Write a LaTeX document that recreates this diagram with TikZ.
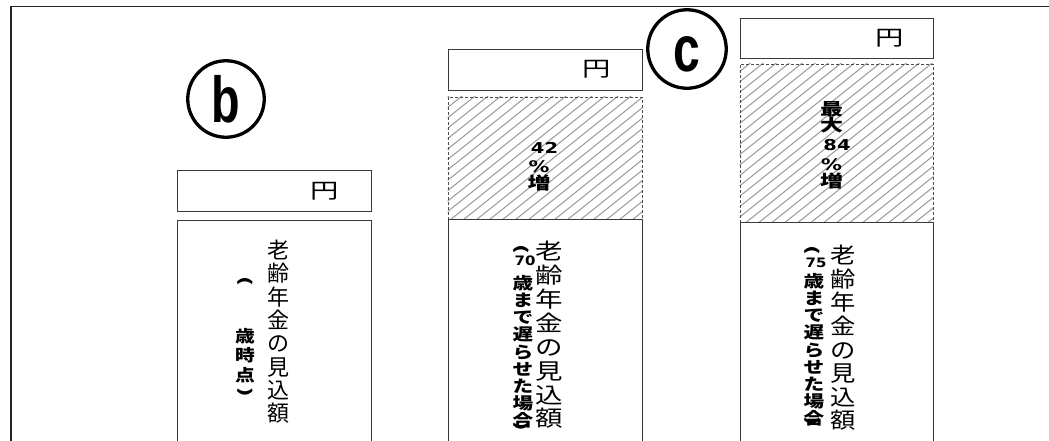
\documentclass[tikz,border=0pt]{standalone}
\usepackage{fontspec}
\newfontfamily\jp{Noto Sans CJK JP}
\newfontfamily\jpS{Noto Sans CJK JP}[FakeStretch=1.15]
\newfontfamily\jpM{Noto Sans CJK JP}[FakeStretch=1.2]
\newfontfamily\jpL{Noto Sans CJK JP}[FakeStretch=1.25]
\newfontfamily\jpX{Noto Sans CJK JP}[FakeStretch=1.35]
\newfontfamily\jpP{Noto Sans CJK JP}[FakeStretch=1.6]
\newfontfamily\dvX{DejaVu Sans}[FakeStretch=1.3]
\newfontfamily\dvA{DejaVu Sans}[FakeStretch=1.15]
\newfontfamily\lsans{Liberation Sans}
\usetikzlibrary{calc}
\newcommand{\vopen}{\rotatebox[origin=c]{-90}{(}}
\newcommand{\vclose}{\rotatebox[origin=c]{-90}{)}}
\begin{document}
\begin{tikzpicture}[x=1pt,y=-1pt,
  boxline/.style={draw=black!78, line width=1pt, rectangle, inner sep=0pt},
  hatchbox/.style={draw=black!70, line width=0.8pt, dash pattern=on 3pt off 2pt, rectangle, inner sep=0pt},
  hatchline/.style={draw=black!40, line width=1pt},
  yentxt/.style={font=\jpX\fontsize{21}{21}\selectfont, inner sep=0pt},
  mainv/.style={font=\jp\fontsize{22}{23.3}\selectfont, align=center, inner sep=0pt, anchor=north},
  mainvL/.style={font=\jpL\fontsize{22}{23.9}\selectfont, align=center, inner sep=0pt, anchor=north},
  mainvS/.style={font=\jpS\fontsize{22}{23.6}\selectfont, align=center, inner sep=0pt, anchor=north},
  smallv/.style={font=\jpL\bfseries\fontsize{16.5}{17.2}\selectfont, align=center, inner sep=0pt, anchor=north},
  smallvb/.style={font=\jpM\bfseries\fontsize{16.5}{19.5}\selectfont, align=center, inner sep=0pt, anchor=north},
  paren/.style={font=\jpP\bfseries\fontsize{15}{15}\selectfont, inner sep=0pt},
  agetxt/.style={font=\dvA\bfseries\fontsize{13}{13}\selectfont, inner sep=0pt},
  hatchtxt/.style={font=\jpX\bfseries\fontsize{17}{17}\selectfont, align=center, inner sep=0pt, anchor=north},
  ring/.style={circle, draw=black, line width=3.3pt, inner sep=0pt},
  letter/.style={font=\lsans\bfseries\fontsize{65}{65}\selectfont, inner sep=0pt, anchor=base}
]
\useasboundingbox (0,0) rectangle (1049,440);
\fill[white] (0,0) rectangle (1049,440);

% outer frame
\coordinate (fbl) at (11,445);
\coordinate (ftl) at (11,6.5);
\coordinate (ftr) at (1055,6.5);
\draw[line width=1.6pt, black!85] (fbl) -- (ftl) -- (ftr);

% circled letters
\node[ring, minimum size=76.5pt] (cb) at (226,99) {};
\node[letter] (lb) at ($(cb.center)+(0,23)$) {\scalebox{0.72}[1]{b}};
\node[ring, minimum size=78.5pt] (cc) at (687,49) {};
\node[letter] (lc) at ($(cc.center)+(0,22.5)$) {\scalebox{0.74}[1]{c}};

% ---- column b ----
\node[boxline, minimum width=194pt, minimum height=40.5pt] (yb) at (274,190.75) {};
\node[yentxt] (yenb) at (325,191) {円};
\node[boxline, minimum width=194pt, minimum height=240pt, anchor=north] (mb) at (274,219.5) {};
\node[mainv] (tb) at (278,240) {老\\齢\\年\\金\\の\\見\\込\\額};
\node[paren] (ob) at (245,281) {\vopen};
\node[smallvb] (sb) at (245,328) {歳\\時\\点};
\node[paren] (cbp) at (245,392.5) {\vclose};

% ---- column 70 ----
\node[boxline, minimum width=194pt, minimum height=41pt] (y70) at (545,69.5) {};
\node[yentxt] (yen70) at (597,69.5) {円};
\node[hatchbox, minimum width=194pt, minimum height=122pt] (h70) at (545,158) {};
\begin{scope}
  \clip (h70.south west) rectangle (h70.north east);
  \foreach \x in {100,113,...,1000} \draw[hatchline] (\x,240) -- ({\x+250},40);
\end{scope}
\node[hatchbox, minimum width=194pt, minimum height=122pt] (h70b) at (545,158) {};
\node[hatchtxt] (p70) at (539,142) {{\kern11pt\dvX\bfseries\fontsize{15}{15}\selectfont 42}\\[2pt]{\dvX\bfseries\fontsize{16}{16}\selectfont\%}\\{増}};
\node[boxline, minimum width=194pt, minimum height=240pt, anchor=north] (m70) at (545,219) {};
\node[mainvL] (t70) at (549.5,241) {老\\齢\\年\\金\\の\\見\\込\\額};
\node[paren] (o70) at (521,249) {\vopen};
\node[agetxt] (a70) at (525,260.5) {70};
\node[smallv] (s70) at (523,275) {歳\\ま\\で\\遅\\ら\\せ\\た\\場\\合};
\node[paren] (c70) at (521,426) {\vclose};

% ---- column 75 ----
\node[boxline, minimum width=193pt, minimum height=40pt] (y75) at (836.5,38) {};
\node[yentxt] (yen75) at (889.5,38) {円};
\node[hatchbox, minimum width=193pt, minimum height=158pt] (h75) at (836.5,143) {};
\begin{scope}
  \clip (h75.south west) rectangle (h75.north east);
  \foreach \x in {100,113,...,1100} \draw[hatchline] (\x,240) -- ({\x+250},40);
\end{scope}
\node[hatchbox, minimum width=193pt, minimum height=158pt] (h75b) at (836.5,143) {};
\node[hatchtxt] (p75) at (831.5,101) {最\\[-0.5pt]大\\[1.5pt]{\kern11pt\dvX\bfseries\fontsize{15}{15}\selectfont 84}\\[3pt]{\dvX\bfseries\fontsize{16}{16}\selectfont\%}\\[0.5pt]{増}};
\node[boxline, minimum width=193pt, minimum height=240pt, anchor=north] (m75) at (836.5,222) {};
\node[mainvS] (t75) at (843.5,245) {老\\齢\\年\\金\\の\\見\\込\\額};
\node[paren] (o75) at (812,250) {\vopen};
\node[agetxt] (a75) at (816,262.5) {75};
\node[smallv] (s75) at (814,273) {歳\\ま\\で\\遅\\ら\\せ\\た\\場\\合};
\node[paren] (c75) at (812.5,421) {\vclose};
\end{tikzpicture}
\end{document}
